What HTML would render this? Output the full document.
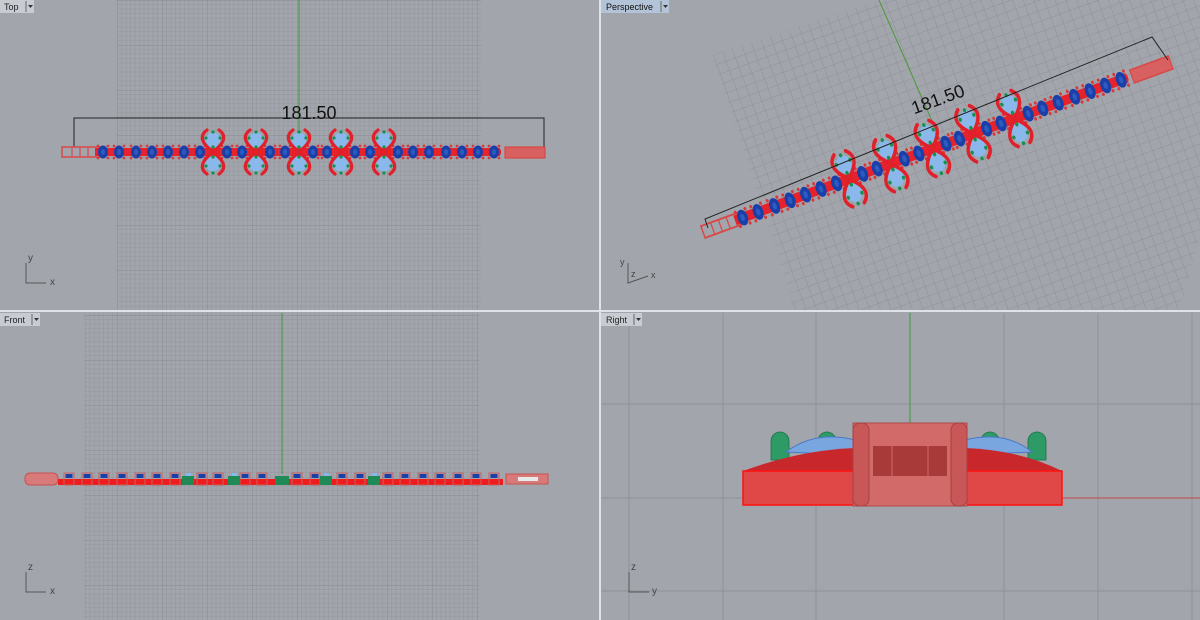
<!DOCTYPE html>
<html><head><meta charset="utf-8"><style>
html,body{margin:0;padding:0;background:#a2a6ac;}
svg{display:block}
text{font-family:"Liberation Sans",sans-serif}
</style></head><body>
<svg width="1200" height="620" viewBox="0 0 1200 620" xmlns="http://www.w3.org/2000/svg">
<defs>
<pattern id="g1" width="45" height="45" patternUnits="userSpaceOnUse" x="117" y="0">
<path d="M0 0H45M0 0V45" stroke="#868a90" stroke-width="1" fill="none"/>
<path d="M0 4.5H45M0 9H45M0 13.5H45M0 18H45M0 22.5H45M0 27H45M0 31.5H45M0 36H45M0 40.5H45M4.5 0V45M9 0V45M13.5 0V45M18 0V45M22.5 0V45M27 0V45M31.5 0V45M36 0V45M40.5 0V45" stroke="#94989e" stroke-width="0.6" fill="none"/>
</pattern>
<pattern id="g2" width="10" height="10" patternUnits="userSpaceOnUse" patternTransform="translate(713,55) rotate(-20)">
<path d="M0 0H10M0 0V10" stroke="#888c92" stroke-width="0.8" fill="none"/>
</pattern>
<g id="bead">
<rect x="-7" y="-2.5" width="14" height="5" fill="#e8222a"/>
<circle cx="-5" cy="-6" r="1.4" fill="#d83a3a"/><circle cx="5" cy="-6" r="1.4" fill="#d83a3a"/>
<circle cx="-5" cy="6" r="1.4" fill="#d83a3a"/><circle cx="5" cy="6" r="1.4" fill="#d83a3a"/>
<ellipse cx="0" cy="0" rx="5" ry="6.5" fill="#1a3fa8"/>
<ellipse cx="0" cy="0" rx="2" ry="3" fill="#2c5cc0"/>
</g>
<g id="xmot">
<circle cx="0" cy="-12" r="7.5" fill="#8ab8ea"/><circle cx="0" cy="12" r="7.5" fill="#8ab8ea"/>
<path d="M-6 -22 C -17 -14, -6 -5, 0 0 C 6 5, 17 14, 6 22" stroke="#e0202a" stroke-width="3.2" fill="none" stroke-linecap="round"/>
<path d="M6 -22 C 17 -14, 6 -5, 0 0 C -6 5, -17 14, -6 22" stroke="#e0202a" stroke-width="3.2" fill="none" stroke-linecap="round"/>
<circle cx="0" cy="-20" r="1.6" fill="#149050"/><circle cx="-7" cy="-14" r="1.6" fill="#149050"/><circle cx="7" cy="-14" r="1.6" fill="#149050"/>
<circle cx="0" cy="21" r="1.6" fill="#149050"/><circle cx="-7" cy="14" r="1.6" fill="#149050"/><circle cx="7" cy="14" r="1.6" fill="#149050"/>
<circle cx="0" cy="-5" r="1.6" fill="#149050"/><circle cx="0" cy="5" r="1.6" fill="#149050"/>
</g>
<g id="brTop">
<rect x="62" y="147" width="40" height="10" fill="none" stroke="#d84848" stroke-width="1.5"/>
<path d="M72 147V157M80 147V157M88 147V157" stroke="#d84848" stroke-width="1.2"/>
<rect x="95" y="148" width="405" height="8" fill="#e8222a"/>
<use href="#bead" x="103" y="152"/><use href="#bead" x="119" y="152"/><use href="#bead" x="136" y="152"/><use href="#bead" x="152" y="152"/><use href="#bead" x="168" y="152"/><use href="#bead" x="184" y="152"/><use href="#bead" x="200" y="152"/><use href="#bead" x="227" y="152"/><use href="#bead" x="242" y="152"/><use href="#bead" x="270" y="152"/><use href="#bead" x="285" y="152"/><use href="#bead" x="313" y="152"/><use href="#bead" x="327" y="152"/><use href="#bead" x="355" y="152"/><use href="#bead" x="370" y="152"/><use href="#bead" x="398" y="152"/><use href="#bead" x="413" y="152"/><use href="#bead" x="429" y="152"/><use href="#bead" x="446" y="152"/><use href="#bead" x="462" y="152"/><use href="#bead" x="478" y="152"/><use href="#bead" x="494" y="152"/>
<use href="#xmot" x="213" y="152"/><use href="#xmot" x="256" y="152"/><use href="#xmot" x="299" y="152"/><use href="#xmot" x="341" y="152"/><use href="#xmot" x="384" y="152"/>
<rect x="505" y="147" width="40" height="11" fill="#d86060" stroke="#d84848" stroke-width="1.2"/>
</g>
<g id="fbead">
<rect x="-5" y="-2" width="10" height="12" fill="none" stroke="#c86060" stroke-width="1"/>
<rect x="-3.5" y="-1" width="7" height="4" fill="#1a3fa8"/>
</g>
</defs>

<!-- TOP viewport -->
<rect x="117" y="0" width="364" height="310" fill="url(#g1)"/>
<line x1="299" y1="0" x2="299" y2="132" stroke="#3a9a3a" stroke-width="1"/>
<path d="M74 147V118H544V147" stroke="#222" stroke-width="1" fill="none"/>
<text x="309" y="119" font-size="18" text-anchor="middle" fill="#111">181.50</text>
<use href="#brTop"/>
<path d="M26 263V283H46" stroke="#555" fill="none"/>
<text x="28" y="261" font-size="10" fill="#444">y</text><text x="50" y="285" font-size="10" fill="#444">x</text>
<rect x="0" y="0" width="34" height="13" fill="#c8ccd2"/>
<text x="4" y="10" font-size="9" fill="#222">Top</text>
<line x1="26" y1="1" x2="26" y2="12" stroke="#666"/><path d="M28 5h5l-2.5 3z" fill="#333"/>

<!-- PERSPECTIVE viewport -->
<polygon points="713,55 880,0 1200,0 1200,232 1180,310 795,310" fill="url(#g2)"/>
<line x1="879" y1="0" x2="936" y2="130" stroke="#4a9a3a" stroke-width="1"/>
<g transform="translate(703,232) rotate(-20) scale(1.03 1.25) translate(-62,-152)"><use href="#brTop"/></g>
<path d="M708 228L705 219L1152 37L1168 60" stroke="#222" stroke-width="1" fill="none"/>
<text x="940" y="105" font-size="18" text-anchor="middle" fill="#111" transform="rotate(-20 940 105)">181.50</text>
<path d="M628 263L628 283L648 276" stroke="#555" fill="none"/>
<text x="620" y="265" font-size="9" fill="#444">y</text><text x="631" y="277" font-size="9" fill="#444">z</text><text x="651" y="278" font-size="9" fill="#444">x</text>
<rect x="601" y="0" width="68" height="13" fill="#b4c4d8"/>
<text x="606" y="10" font-size="9" fill="#111">Perspective</text>
<line x1="661" y1="1" x2="661" y2="12" stroke="#666"/><path d="M663 5h5l-2.5 3z" fill="#333"/>

<!-- FRONT viewport -->
<rect x="84" y="313" width="395" height="307" fill="url(#g1)"/>
<line x1="282" y1="313" x2="282" y2="474" stroke="#3a9a3a" stroke-width="1"/>
<rect x="25" y="473" width="33" height="12" rx="5" fill="#d87a7a" stroke="#c85050"/>
<rect x="58" y="479" width="445" height="6" fill="#ee1c1c"/>
<g transform="translate(0,475)">
<use href="#fbead" x="69"/><use href="#fbead" x="87"/><use href="#fbead" x="104"/><use href="#fbead" x="122"/><use href="#fbead" x="140"/><use href="#fbead" x="157"/><use href="#fbead" x="175"/><use href="#fbead" x="202"/><use href="#fbead" x="218"/><use href="#fbead" x="245"/><use href="#fbead" x="262"/><use href="#fbead" x="297"/><use href="#fbead" x="315"/><use href="#fbead" x="342"/><use href="#fbead" x="360"/><use href="#fbead" x="388"/><use href="#fbead" x="405"/><use href="#fbead" x="423"/><use href="#fbead" x="440"/><use href="#fbead" x="458"/><use href="#fbead" x="476"/><use href="#fbead" x="494"/>
</g>
<g fill="#1f8a55"><rect x="182" y="476" width="12" height="9"/><rect x="228" y="476" width="12" height="9"/><rect x="275" y="476" width="14" height="9"/><rect x="320" y="476" width="12" height="9"/><rect x="368" y="476" width="12" height="9"/></g>
<g fill="#8ab8ea"><rect x="186" y="473" width="5" height="3"/><rect x="232" y="473" width="5" height="3"/><rect x="324" y="473" width="5" height="3"/><rect x="372" y="473" width="5" height="3"/></g>
<rect x="506" y="474" width="42" height="10" fill="#d87a7a" stroke="#c85050"/>
<rect x="518" y="477" width="20" height="4" fill="#e8e8e8"/>
<path d="M26 572V592H46" stroke="#555" fill="none"/>
<text x="28" y="570" font-size="10" fill="#444">z</text><text x="50" y="594" font-size="10" fill="#444">x</text>
<rect x="0" y="313" width="40" height="13" fill="#c8ccd2"/>
<text x="4" y="323" font-size="9" fill="#222">Front</text>
<line x1="32" y1="314" x2="32" y2="325" stroke="#666"/><path d="M34 318h5l-2.5 3z" fill="#333"/>

<!-- RIGHT viewport -->
<g stroke="#8e9298" stroke-width="1">
<path d="M629 313V620M723 313V620M816 313V620M1004 313V620M1098 313V620M1192 313V620M601 404H1200M601 498H1200M601 591H1200"/>
</g>
<line x1="910" y1="313" x2="910" y2="424" stroke="#3a9a3a"/>
<line x1="1062" y1="498" x2="1200" y2="498" stroke="#c04848"/>
<g fill="#2e9a66" stroke="#1d7048" stroke-width="0.8">
<path d="M771 460V441a9 9 0 0 1 18 0V460z"/><path d="M818 460V441a9 9 0 0 1 18 0V460z"/><path d="M981 460V441a9 9 0 0 1 18 0V460z"/><path d="M1028 460V441a9 9 0 0 1 18 0V460z"/>
</g>
<path d="M786 452Q815 430 855 440L855 455ZM965 440Q1005 430 1032 452L965 455Z" fill="#7aa6e0" stroke="#4a78c8"/>
<path d="M743 471Q800 450 855 448L965 448Q1020 450 1062 471Z" fill="#c8282c"/>
<rect x="743" y="471" width="319" height="34" fill="#e04848" stroke="#ff1010" stroke-width="1.5"/>
<rect x="853" y="423" width="114" height="83" fill="#d26a6a" stroke="#b04848"/>
<rect x="853" y="423" width="16" height="83" rx="7" fill="#c85858" stroke="#a84040"/>
<rect x="951" y="423" width="16" height="83" rx="7" fill="#c85858" stroke="#a84040"/>
<rect x="873" y="446" width="74" height="30" fill="#a83a3a"/>
<path d="M892 446V476M928 446V476" stroke="#d26a6a"/>
<path d="M629 572V592H649" stroke="#555" fill="none"/>
<text x="631" y="570" font-size="10" fill="#444">z</text><text x="652" y="594" font-size="10" fill="#444">y</text>
<rect x="601" y="313" width="41" height="13" fill="#c8ccd2"/>
<text x="606" y="323" font-size="9" fill="#222">Right</text>
<line x1="634" y1="314" x2="634" y2="325" stroke="#666"/><path d="M636 318h5l-2.5 3z" fill="#333"/>

<!-- dividers -->
<rect x="599" y="0" width="2" height="620" fill="#dfe3e8"/>
<rect x="0" y="310" width="1200" height="2" fill="#dfe3e8"/>
</svg>
</body></html>
